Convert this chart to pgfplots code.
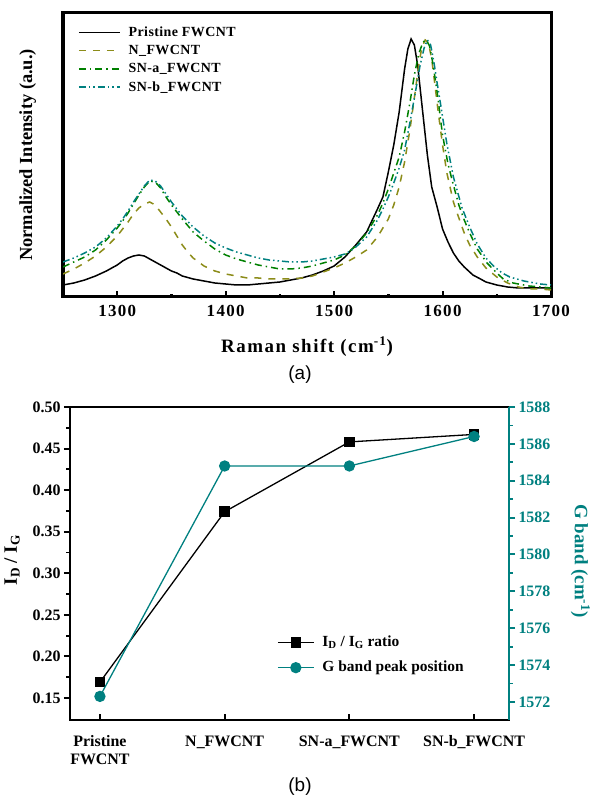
\documentclass[border=0pt]{standalone}
\usepackage{fontspec}
\setmainfont{Liberation Serif}
\newfontfamily\spaced[LetterSpace=8]{Liberation Serif}
\newfontfamily\legfont[LetterSpace=3]{Liberation Serif}
\newfontfamily\sansf{Liberation Sans}
\usepackage{pgfplots}
\pgfplotsset{compat=1.18}
\definecolor{olivec}{RGB}{140,140,25}
\definecolor{greenc}{RGB}{0,128,0}
\definecolor{tealc}{RGB}{0,128,128}
\newcommand{\fs}[2]{\fontsize{#1}{#2}\selectfont}

\begin{document}
\begin{tikzpicture}
\useasboundingbox (0,0) rectangle (595bp,799bp);

% (a) Raman spectra
\begin{axis}[
  at={(63bp,502bp)}, anchor=south west, scale only axis,
  width=488bp, height=284bp,
  xmin=1250, xmax=1700, ymin=0, ymax=284,
  xtick={1300,1400,1500,1600,1700},
  minor xtick={1350,1450,1550,1650},
  ytick=\empty, xtick pos=left, tick align=inside,
  major tick length=6bp, minor tick length=3bp,
  major tick style={line width=2bp, black},
  minor tick style={line width=2.5bp, black},
  axis line style={line width=3bp},
  scaled ticks=false,
  /pgf/number format/assume math mode=true,
  /pgf/number format/1000 sep={},
  xticklabel style={font=\spaced\bfseries\fs{17}{17}, yshift=-5bp},
  xlabel={Raman shift (cm\textsuperscript{-1})},
  xlabel style={font=\spaced\bfseries\fs{19}{19}, at={(axis description cs:0.5,-0.194)}, anchor=base},
  ylabel={Normalized Intensity (a.u.)},
  ylabel style={font=\bfseries\fs{18.5}{18.5}, at={(axis description cs:-0.0635,0.5)}, anchor=base},
  legend style={draw=none, fill=none, at={(axis description cs:0.0307,0.961)}, anchor=north west,
    inner sep=0pt, font=\legfont\bfseries\fs{14}{14},
    nodes={text height=11bp, text depth=3bp, inner sep=1bp}, row sep=2.3bp, column sep=7bp},
  legend cell align=left,
  legend image code/.code={\draw[#1] (0bp,0bp) -- (41bp,0bp);},
  every axis plot/.append style={line width=1.5bp},
]
\addplot[black] coordinates {
(1250,12)(1260,14)(1270,17)(1280,21)(1290,26)(1300,32)(1305,36)(1310,39)(1315,41)(1320,42)
(1325,41)(1330,38)(1335,35)(1340,32)(1345,29)(1350,26)(1355,24)(1360,21)(1370,18)(1380,16)
(1390,14)(1400,13)(1410,12)(1420,12)(1430,13)(1440,14)(1450,15)(1460,17)(1470,19)(1480,22)
(1490,26)(1500,31)(1510,40)(1520,52)(1530,65)(1540,88)(1545,100)(1550,125)(1555,152)(1560,185)
(1565,228)(1568,248)(1571,258)(1574,252)(1577,232)(1580,202)(1583,172)(1586,142)(1590,110)
(1595,90)(1600,68)(1605,55)(1610,44)(1615,36)(1620,30)(1628,22)(1635,18)(1640,15)(1650,12)
(1660,10)(1670,9)(1680,9)(1690,9)(1700,9)};
\addlegendentry{Pristine FWCNT}
\addplot[olivec, dash pattern=on 7bp off 7bp] coordinates {
(1250,23)(1260,28)(1270,34)(1280,41)(1290,50)(1300,61)(1305,68)(1310,75)(1315,83)(1320,89)
(1325,93)(1330,95)(1335,92)(1340,85)(1345,78)(1350,70)(1355,61)(1360,52)(1365,45)(1370,39)
(1380,31)(1390,26)(1400,23)(1410,21)(1420,19)(1430,19)(1440,18)(1450,18)(1460,18)(1470,19)
(1480,21)(1490,25)(1500,29)(1510,34)(1520,40)(1530,47)(1540,60)(1550,78)(1555,92)(1560,110)
(1565,135)(1570,168)(1575,207)(1578,232)(1581,250)(1584,257)(1587,254)(1590,238)(1593,212)
(1596,185)(1600,152)(1604,124)(1610,95)(1616,76)(1620,64)(1625,52)(1632,40)(1640,29)(1650,20)
(1660,14)(1670,10)(1680,8)(1690,8)(1700,7)};
\addlegendentry{N\_FWCNT}
\addplot[greenc, dash pattern=on 7bp off 4bp on 1.5bp off 4bp] coordinates {
(1250,30)(1260,35)(1270,40)(1280,47)(1290,57)(1300,69)(1305,76)(1310,84)(1315,93)(1320,102)
(1325,110)(1330,116)(1335,115)(1340,109)(1345,100)(1350,92)(1355,85)(1360,78)(1370,65)(1380,56)
(1390,48)(1400,42)(1410,38)(1420,35)(1430,32)(1440,30)(1450,28)(1460,28)(1470,29)(1480,31)
(1490,34)(1500,37)(1510,42)(1520,51)(1530,64)(1540,82)(1545,94)(1550,108)(1555,124)(1560,140)
(1565,165)(1570,195)(1574,222)(1578,243)(1582,255)(1585,257)(1588,251)(1591,234)(1595,205)
(1600,162)(1605,133)(1610,112)(1615,92)(1620,77)(1625,64)(1632,48)(1641,34)(1650,24)(1656,18)
(1665,14)(1680,11)(1700,9)};
\addlegendentry{SN-a\_FWCNT}
\addplot[tealc, dash pattern=on 7bp off 3bp on 1.5bp off 3bp on 1.5bp off 3bp] coordinates {
(1250,35)(1260,39)(1270,44)(1280,50)(1290,59)(1300,71)(1305,78)(1310,86)(1315,95)(1320,103)
(1325,111)(1330,117)(1335,116)(1340,111)(1345,103)(1350,95)(1355,88)(1360,81)(1370,70)(1380,61)
(1390,54)(1400,49)(1410,45)(1420,42)(1430,39)(1440,37)(1450,36)(1460,35)(1470,35)(1480,36)
(1490,38)(1500,40)(1510,43)(1515,46)(1520,50)(1530,60)(1540,77)(1545,88)(1550,100)(1555,114)
(1560,129)(1565,147)(1570,175)(1575,205)(1579,230)(1583,249)(1586,257)(1589,252)(1592,235)
(1595,214)(1598,194)(1604,153)(1610,120)(1618,89)(1625,70)(1632,53)(1640,39)(1647,31)(1655,24)
(1662,20)(1675,16)(1690,13)(1700,12)};
\addlegendentry{SN-b\_FWCNT}
\end{axis}

% (b) ID/IG ratio, left axis
\begin{axis}[
  at={(70bp,79bp)}, anchor=south west, scale only axis,
  width=439bp, height=313bp,
  xmin=-0.24, xmax=3.28, ymin=0.1235, ymax=0.5,
  xtick={0,1,2,3},
  xticklabels={{Pristine\\FWCNT},{N\_FWCNT},{SN-a\_FWCNT},{SN-b\_FWCNT}},
  xticklabel style={align=center, font=\bfseries\fs{16}{18}, yshift=-12bp},
  xtick pos=left, ytick pos=left,
  xtick align=inside, ytick align=outside,
  ytick={0.15,0.20,0.25,0.30,0.35,0.40,0.45,0.50}, minor y tick num=1,
  major tick length=6bp, minor tick length=3.5bp,
  major tick style={line width=2bp, black},
  minor tick style={line width=1.8bp, black},
  axis line style={line width=2.6bp},
  scaled ticks=false,
  /pgf/number format/assume math mode=true,
  yticklabel style={font=\bfseries\fs{16}{16}, /pgf/number format/fixed,
    /pgf/number format/fixed zerofill, /pgf/number format/precision=2},
  ylabel={I\textsubscript{D} / I\textsubscript{G}},
  ylabel style={font=\bfseries\fs{19}{19}, at={(axis description cs:-0.121,0.511)}, anchor=base},
  legend style={draw=none, fill=none, at={(axis description cs:0.4715,0.2748)}, anchor=north west,
    inner sep=0pt, font=\bfseries\fs{15.5}{15.5},
    nodes={text height=11bp, text depth=4bp, inner sep=1bp}, row sep=8bp, column sep=7bp},
  legend cell align=left,
  legend image code/.code={\draw[mark repeat=2,mark phase=2,#1] plot coordinates {(0bp,0bp) (18bp,0bp) (36bp,0bp)};},
]
\addplot[black, line width=1.3bp, mark=square*, mark size=4.6bp] coordinates {
(0,0.169) (1,0.374) (2,0.458) (3,0.467)};
\addlegendentry{I\textsubscript{D} / I\textsubscript{G} ratio}
\addlegendimage{tealc, line width=1.3bp, mark=*, mark size=5bp}
\addlegendentry{G band peak position}
\end{axis}

% (b) G band position, right axis
\begin{axis}[
  at={(70bp,79bp)}, anchor=south west, scale only axis,
  width=439bp, height=313bp,
  xmin=-0.24, xmax=3.28, ymin=1571.02, ymax=1588,
  axis x line=none, axis y line*=right,
  ytick={1572,1574,1576,1578,1580,1582,1584,1586,1588}, minor y tick num=1,
  ytick align=outside,
  major tick length=6bp, minor tick length=3.5bp,
  major tick style={line width=2bp, tealc},
  minor tick style={line width=1.8bp, tealc},
  y axis line style={-, tealc, line width=2.6bp},
  scaled ticks=false,
  /pgf/number format/assume math mode=true,
  /pgf/number format/1000 sep={},
  yticklabel style={tealc, font=\bfseries\fs{16}{16}},
  ylabel={G band (cm\textsuperscript{-1})},
  ylabel style={tealc, font=\bfseries\fs{19}{19}, at={(axis description cs:1.150,0.508)}, anchor=base, rotate=180},
]
\addplot[tealc, line width=1.3bp, mark=*, mark size=5bp] coordinates {
(0,1572.3) (1,1584.8) (2,1584.8) (3,1586.4)};
\end{axis}

\node[font=\sansf\fs{19}{19}] at (300bp,424bp) {(a)};
\node[font=\sansf\fs{19}{19}] at (300bp,12bp) {(b)};
\end{tikzpicture}
\end{document}
